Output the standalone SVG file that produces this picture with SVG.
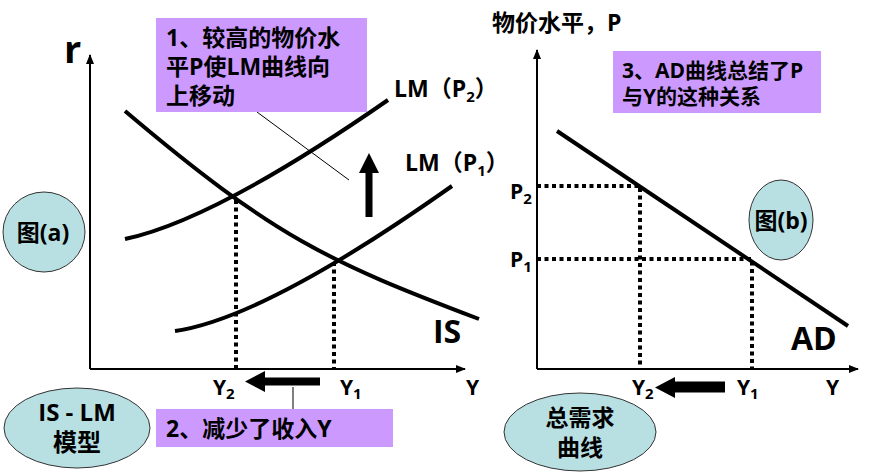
<svg xmlns="http://www.w3.org/2000/svg" width="888" height="476" viewBox="0 0 888 476">
<style>
  text { font-family: "Open Sans", "Noto Sans CJK SC", sans-serif; font-weight: bold; fill: #000; }
  .box { fill: #CC99FF; stroke: none; }
  .oval { fill: #B8DFE2; stroke: #333; stroke-width: 1; }
  .axis { fill: none; stroke: #000; stroke-width: 2; }
  .curve { fill: none; stroke: #000; stroke-width: 4; stroke-linecap: butt; }
  .dot { fill: none; stroke: #000; stroke-width: 4; stroke-dasharray: 4 3.5; }
  .thin { fill: none; stroke: #000; stroke-width: 1; }
  .big { fill: #000; stroke: none; }
  .lbl { font-size: 21px; }
  .sub { font-size: 15px; }
  .note { font-size: 23px; }
</style>
<defs>
  <marker id="ah" viewBox="0 0 10 10" refX="9" refY="5" markerWidth="5" markerHeight="5" orient="auto" markerUnits="strokeWidth">
    <path d="M0,1 L10,5 L0,9 z" fill="#000"/>
  </marker>
</defs>

<!-- axes -->
<g id="axes">
  <path class="axis" d="M90,369 V55" marker-end="url(#ah)"/>
  <path class="axis" d="M90,369 H465" marker-end="url(#ah)"/>
  <path class="axis" d="M537,369 V50" marker-end="url(#ah)"/>
  <path class="axis" d="M537,369 H858" marker-end="url(#ah)"/>
</g>

<!-- connectors / curves -->
<g id="connectors">
  <path id="IS" class="curve" d="M125,111 C275,238 329,262 479,319"/>
  <path id="LM2" class="curve" d="M125,239 Q215,220 388,100"/>
  <path id="LM1" class="curve" d="M175,331 Q265,318 452,186"/>
  <path id="AD" class="curve" d="M557,131 L848,326"/>
  <path class="dot" d="M236,200 V369"/>
  <path class="dot" d="M334,262 V369"/>
  <path class="dot" d="M537,186 H640 V369"/>
  <path class="dot" d="M537,259 H752 V369"/>
  <path class="thin" d="M257,112 L349,180"/>
  <path class="thin" d="M293,387 L293,421"/>
  <!-- up arrow -->
  <path class="big" d="M365.5,217 V173 H359 L369,153 L379,173 H372.5 V217 Z"/>
  <!-- left arrow (a) -->
  <path class="big" d="M320,377.5 H265 V371 L245,381.5 L265,392 V385.5 H320 Z"/>
  <!-- left arrow (b) -->
  <path class="big" d="M725,381.5 H675 V377 L655,387.5 L675,398 V392.5 H725 Z"/>
</g>

<!-- labels -->
<g id="label-r"><text x="64" y="63" style="font-size:38px">r</text></g>
<g id="label-LM2"><text x="394" y="97" style="font-size:23px">LM（P<tspan class="sub" dy="5">2</tspan><tspan dy="-5">）</tspan></text></g>
<g id="label-LM1"><text x="405" y="171" style="font-size:23px">LM（P<tspan class="sub" dy="5">1</tspan><tspan dy="-5">）</tspan></text></g>
<g id="label-IS"><text x="433" y="343" style="font-size:32px">IS</text></g>
<g id="label-AD"><text x="791" y="350" style="font-size:32px">AD</text></g>
<g id="label-Ya2"><text class="lbl" x="213" y="395">Y<tspan class="sub" dy="4">2</tspan></text></g>
<g id="label-Ya1"><text class="lbl" x="340" y="395">Y<tspan class="sub" dy="4">1</tspan></text></g>
<g id="label-Ya"><text class="lbl" x="466" y="395">Y</text></g>
<g id="label-Yb2"><text class="lbl" x="632" y="395">Y<tspan class="sub" dy="4">2</tspan></text></g>
<g id="label-Yb1"><text class="lbl" x="737" y="395">Y<tspan class="sub" dy="4">1</tspan></text></g>
<g id="label-Yb"><text class="lbl" x="826" y="395">Y</text></g>
<g id="label-P2"><text class="lbl" x="510" y="199">P<tspan class="sub" dy="5">2</tspan></text></g>
<g id="label-P1"><text class="lbl" x="510" y="267">P<tspan class="sub" dy="5">1</tspan></text></g>
<g id="label-Paxis"><text x="492" y="31" style="font-size:23px">物价水平，P</text></g>

<!-- note boxes -->
<g id="note1">
  <rect class="box" x="156" y="18" width="211" height="94"/>
  <text class="note" x="166" y="46">1、较高的物价水</text>
  <text class="note" x="166" y="75">平P使LM曲线向</text>
  <text class="note" x="166" y="104">上移动</text>
</g>
<g id="note2">
  <rect class="box" x="156" y="409" width="237" height="38"/>
  <text class="note" x="166" y="437">2、减少了收入Y</text>
</g>
<g id="note3">
  <rect class="box" x="613" y="51" width="208" height="62"/>
  <text x="622" y="78" style="font-size:21px">3、AD曲线总结了P</text>
  <text x="622" y="104" style="font-size:21px">与Y的这种关系</text>
</g>

<!-- ovals -->
<g id="oval-a">
  <ellipse class="oval" cx="44" cy="232" rx="41" ry="40"/>
  <text x="43" y="241" text-anchor="middle" style="font-size:23px">图(a)</text>
</g>
<g id="oval-b">
  <ellipse class="oval" cx="781" cy="220" rx="32" ry="40"/>
  <text x="781" y="229" text-anchor="middle" style="font-size:23px">图(b)</text>
</g>
<g id="oval-islm">
  <ellipse class="oval" cx="77" cy="428" rx="73" ry="40"/>
  <text x="77" y="421" text-anchor="middle" style="font-size:24px">IS - LM</text>
  <text x="77" y="451" text-anchor="middle" style="font-size:24px">模型</text>
</g>
<g id="oval-ad">
  <ellipse class="oval" cx="580" cy="432" rx="76" ry="39"/>
  <text x="580" y="426" text-anchor="middle" style="font-size:23px">总需求</text>
  <text x="580" y="456" text-anchor="middle" style="font-size:23px">曲线</text>
</g>
</svg>
